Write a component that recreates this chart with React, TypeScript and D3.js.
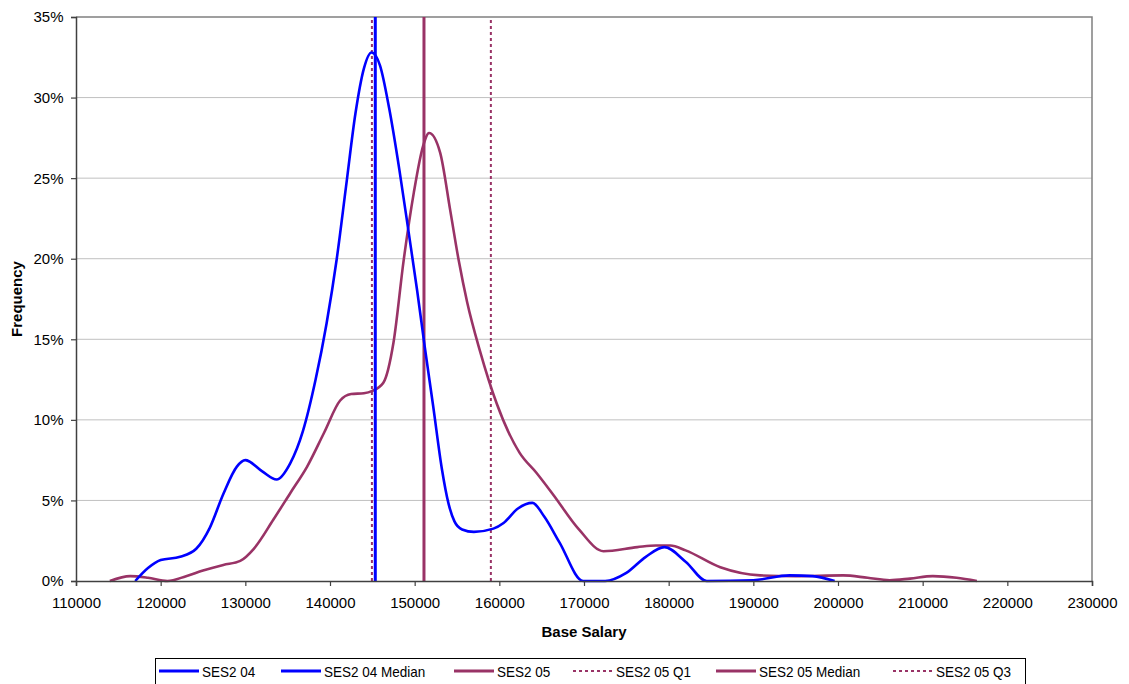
import React, { useEffect, useRef } from "react";
import * as d3 from "d3";

const salary04 = [117000,118500,120000,122300,124200,125800,127400,129000,130000,132000,133700,135300,136800,138300,139600,140800,141900,143000,144000,144900,145900,147000,148200,149300,150300,151200,152200,153200,154000,154700,155600,157000,159300,160500,162200,163900,165300,167100,169900,172500,175000,177300,179500,182000,184500,190000,194300,197000,199600];
const freq04 = [0,0.8,1.3,1.5,2.0,3.3,5.4,7.1,7.5,6.8,6.3,7.3,9.3,12.5,16.0,20.0,24.5,29.0,31.8,32.8,32.0,29.3,25.5,21.6,18.0,14.5,10.8,7.0,4.8,3.7,3.2,3.05,3.25,3.6,4.5,4.85,4.0,2.4,0,0,0.5,1.5,2.1,1.2,0,0.05,0.35,0.3,0];

const salary05 = [114000,116400,118500,120800,123000,125000,127400,129400,131000,133300,135300,137300,139300,141200,142500,144000,145000,146300,147500,148700,149900,151000,151700,153000,154200,155200,156200,157700,159700,162400,164400,166300,169400,172300,176300,178500,180200,182000,186100,190800,195000,200600,203500,206100,208500,211200,214000,216400];
const freq05 = [0,0.3,0.2,0,0.3,0.65,1.0,1.25,2.0,3.8,5.45,7.1,9.2,11.2,11.6,11.65,11.8,12.3,14.8,19.9,24.1,27.0,27.8,26.6,23.0,19.9,17.3,14.3,11.0,7.95,6.7,5.4,3.2,1.85,2.1,2.2,2.2,1.9,0.85,0.35,0.3,0.35,0.2,0.05,0.15,0.3,0.2,0];

const median04 = 145350;
const q1_05 = 144950;
const median05 = 151100;
const q3_05 = 159000;

const xTicks = [110000,120000,130000,140000,150000,160000,170000,180000,190000,200000,210000,220000,230000];
const yTicks = [0,5,10,15,20,25,30,35];

const legendNames = ["SES2 04","SES2 04 Median","SES2 05","SES2 05 Q1","SES2 05 Median","SES2 05 Q3"];
const legendColors = ["#0000FF","#0000FF","#993366","#993366","#993366","#993366"];
const legendDashed = [false,false,false,true,false,true];
const legendStarts = [159,281,454,573,716,893];

const FONT = "Arial, 'Liberation Sans', sans-serif";

export default function App() {
  const ref = useRef<SVGSVGElement>(null);

  useEffect(() => {
    const svg = d3.select(ref.current);
    svg.selectAll("*").remove();
    const left = 76, right = 1092, top = 17, bottom = 581;
    const x = d3.scaleLinear().domain([110000, 230000]).range([left, right]);
    const y = d3.scaleLinear().domain([0, 35]).range([bottom, top]);

    svg.append("g").selectAll("line").data(yTicks.filter(t => t > 0 && t < 35)).join("line")
      .attr("x1", left).attr("x2", right)
      .attr("y1", d => y(d)).attr("y2", d => y(d))
      .attr("stroke", "#c0c0c0").attr("stroke-width", 1);

    svg.append("path")
      .attr("d", `M${left},${y(35)}H${right}V${bottom}`)
      .attr("fill", "none").attr("stroke", "#808080").attr("stroke-width", 1.5);

    const vline = (v: number, color: string, width: number, dash: string) => {
      svg.append("line")
        .attr("x1", x(v)).attr("x2", x(v))
        .attr("y1", y(0)).attr("y2", y(35))
        .attr("stroke", color).attr("stroke-width", width)
        .attr("stroke-dasharray", dash || null);
    };

    const line = d3.line<[number, number]>()
      .x(d => x(d[0])).y(d => y(d[1]))
      .curve(d3.curveMonotoneX);

    const data05 = salary05.map((s, i) => [s, freq05[i]] as [number, number]);
    const data04 = salary04.map((s, i) => [s, freq04[i]] as [number, number]);

    svg.append("path").attr("d", line(data05)!).attr("fill", "none")
      .attr("stroke", "#993366").attr("stroke-width", 2.6).attr("stroke-linejoin", "round");
    vline(q1_05, "#993366", 2, "3,3");
    vline(median05, "#993366", 3, "");
    vline(q3_05, "#993366", 2, "3,3");
    svg.append("path").attr("d", line(data04)!).attr("fill", "none")
      .attr("stroke", "#0000FF").attr("stroke-width", 2.6).attr("stroke-linejoin", "round");
    vline(median04, "#0000FF", 3, "");

    const yAxis = svg.append("g").attr("transform", `translate(${left},0)`)
      .call(d3.axisLeft(y).tickValues(yTicks).tickSize(5).tickFormat(d => `${d}%`));
    const xAxis = svg.append("g").attr("transform", `translate(0,${bottom})`)
      .call(d3.axisBottom(x).tickValues(xTicks).tickSize(5).tickFormat(d => `${d}`));
    [yAxis, xAxis].forEach(g => {
      g.select(".domain").attr("stroke", "#404040").attr("stroke-width", 1.5);
      g.selectAll(".tick line").attr("stroke", "#404040").attr("stroke-width", 1.2);
      g.selectAll("text").attr("font-family", FONT).attr("font-size", 15).attr("fill", "#000");
    });
    yAxis.selectAll("text").attr("x", -12.5).attr("dy", "0.33em");
    xAxis.selectAll("text").attr("y", 27).attr("dy", 0);

    svg.append("text").attr("x", 584).attr("y", 637).attr("text-anchor", "middle")
      .attr("font-family", FONT).attr("font-size", 15).attr("font-weight", "bold").text("Base Salary");
    svg.append("text").attr("transform", `translate(22,${(top + bottom) / 2}) rotate(-90)`)
      .attr("text-anchor", "middle").attr("font-family", FONT).attr("font-size", 15)
      .attr("font-weight", "bold").text("Frequency");

    const lg = svg.append("g");
    lg.append("rect").attr("x", 155.5).attr("y", 658.5).attr("width", 870).attr("height", 40)
      .attr("fill", "white").attr("stroke", "#000").attr("stroke-width", 1);
    const ly = 671;
    legendNames.forEach((name, i) => {
      const cx = legendStarts[i];
      lg.append("line").attr("x1", cx).attr("x2", cx + 40).attr("y1", ly).attr("y2", ly)
        .attr("stroke", legendColors[i]).attr("stroke-width", legendDashed[i] ? 2 : 3)
        .attr("stroke-dasharray", legendDashed[i] ? "3,3" : null);
      lg.append("text").attr("transform", `translate(${cx + 43},${ly + 5.5}) scale(0.9,1)`)
        .attr("font-family", FONT).attr("font-size", 15).text(name);
    });
  }, []);

  return (
    <svg ref={ref} width={1129} height={684}
      style={{ position: "absolute", left: 0, top: 0, background: "white" }} />
  );
}
